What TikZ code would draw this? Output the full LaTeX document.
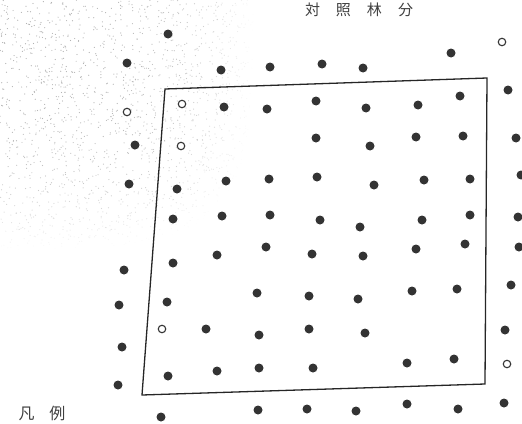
\documentclass[tikz,border=0pt]{standalone}
\usepackage{fontspec}
\newfontfamily\cjk{Noto Sans CJK JP}
\usepackage{tikz}

\tikzset{
  tree/.style={circle, fill=black!80, inner sep=0pt, minimum size=9pt},
  gap/.style={circle, draw=black!80, line width=1.1pt, fill=white, inner sep=0pt, minimum size=7.5pt},
  plotline/.style={line width=1.3pt, black!85},
  speck/.style={black!30},
  label/.style={font=\cjk\fontsize{15}{15}\selectfont, text=black!75, inner sep=0pt}
}

\begin{document}
\begin{tikzpicture}[x=1pt, y=-1pt]
        \useasboundingbox (0,0) rectangle (522,423);

        % show-through of the page behind, fading out
        \pgfmathsetseed{17}
        \foreach \i in {1,...,1800}{
            \pgfmathsetmacro\sx{rnd*255}
            \pgfmathsetmacro\sy{rnd*250}
            \pgfmathsetmacro\op{max(0,1-((\sx/255)^4+(\sy/250)^4))}
            \fill[speck, opacity=\op] (\sx,\sy) circle[radius=0.6];
        }

        % plot boundary
        \coordinate (nw) at (165,89);
        \coordinate (ne) at (487,78);
        \coordinate (se) at (485,384);
        \coordinate (sw) at (142,395);
        \draw[plotline] (nw) -- (ne) -- (se) -- (sw) -- cycle;

        % standing trees
        \foreach \x/\y in {
            168/34, 127/63, 221/70, 270/67, 322/64, 363/68, 451/53,
            224/107, 267/109, 316/101, 366/108, 418/105, 460/96, 508/90,
            135/145, 316/138, 370/146, 416/137, 463/136, 516/138,
            129/184, 177/189, 226/181, 269/179, 317/177, 374/185, 424/180, 470/179, 521/175,
            173/219, 222/216, 270/215, 320/220, 360/227, 422/220, 470/215, 518/217,
            173/263, 124/270, 217/255, 266/247, 312/254, 363/256, 416/249, 465/244, 519/247,
            119/305, 167/302, 257/293, 309/296, 358/299, 412/291, 457/289, 511/285,
            206/329, 259/335, 309/329, 365/333, 505/330, 122/347,
            168/376, 217/371, 259/368, 313/368, 407/363, 454/359, 118/385,
            161/417, 258/410, 307/409, 356/411, 407/404, 458/409, 504/403}
            \node[tree] at (\x,\y) {};

        % missing trees
        \foreach \x/\y in {502/42, 127/112, 182/104, 181/146, 162/329, 507/364}
            \node[gap] at (\x,\y) {};

        \node[label] (title) at (359,10) {対\hspace{16pt}照\hspace{16pt}林\hspace{16pt}分};
        \node[label, font=\cjk\fontsize{16}{16}\selectfont] (legend) at (42,413) {凡\hspace{15pt}例};
\end{tikzpicture}
\end{document}
